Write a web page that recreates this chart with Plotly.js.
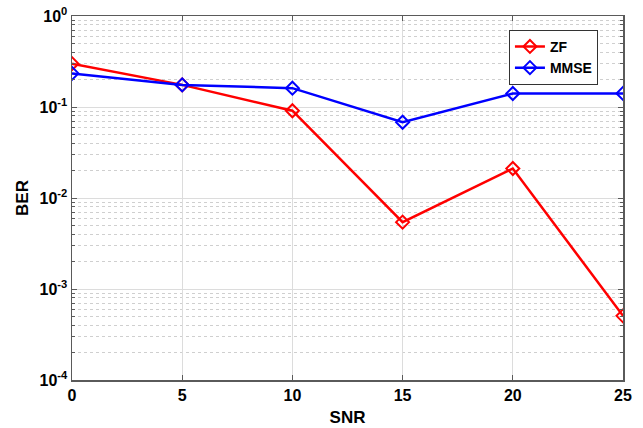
<!DOCTYPE html>
<html>
<head>
<meta charset="utf-8">
<script src="https://cdn.plot.ly/plotly-3.0.1.min.js"></script>
<style>html,body{margin:0;padding:0;background:#fff;}#chart{width:643px;height:428px;}</style>
</head>
<body>
<div id="chart"></div>
<script>
const snr = [0, 5, 10, 15, 20, 25];
const berZF = [0.299, 0.175, 0.091, 0.00543, 0.0211, 0.000507];
const berMMSE = [0.234, 0.175, 0.161, 0.068, 0.1406, 0.141];
const yTickVals = [1e-4, 1e-3, 1e-2, 1e-1, 1];
const yTickText = ['<b>10<sup>-4</sup></b>', '<b>10<sup>-3</sup></b>', '<b>10<sup>-2</sup></b>', '<b>10<sup>-1</sup></b>', '<b>10<sup>0</sup></b>'];
const yMinorDigits = [2, 3, 4, 5, 6, 7, 8, 9];
const xTickVals = [0, 5, 10, 15, 20, 25];
const xTickText = xTickVals.map(v => '<b>' + v + '</b>');

const yMinorVals = [];
yTickVals.slice(0, -1).forEach(d => yMinorDigits.forEach(k => yMinorVals.push(d * k)));

const mk = (name, y, color) => ({
  x: snr, y: y, name: '<b>' + name + '</b>', type: 'scatter', mode: 'lines+markers',
  line: {color: color, width: 2.5},
  marker: {symbol: 'diamond-open', size: 10, color: color, line: {color: color, width: 2}}
});

const data = [mk('ZF', berZF, '#ff0000'), mk('MMSE', berMMSE, '#0000ff')];

const fontFam = 'Liberation Sans, Arial, sans-serif';
const axisCommon = {
  showline: true, linecolor: '#5a5a5a', linewidth: 1.5, mirror: 'ticks',
  ticks: 'inside', ticklen: 5, tickcolor: '#5a5a5a', tickwidth: 1,
  gridcolor: '#dcdcdc', gridwidth: 1, zeroline: false,
  tickfont: {family: fontFam, size: 16, color: '#000'}
};

const layout = {
  width: 643, height: 428,
  margin: {l: 72, r: 20, t: 16, b: 48},
  paper_bgcolor: '#fff', plot_bgcolor: '#fff',
  showlegend: true,
  legend: {x: 0.793, y: 0.962, xanchor: 'left', yanchor: 'top', bordercolor: '#333', borderwidth: 1,
    bgcolor: '#fff', font: {family: fontFam, size: 14, color: '#000'},
    tracegroupgap: 0},
  xaxis: Object.assign({}, axisCommon, {
    range: [0, 25], tickmode: 'array', tickvals: xTickVals, ticktext: xTickText,
    title: {text: '<b>SNR</b>', font: {family: fontFam, size: 17, color: '#000'}, standoff: 8}
  }),
  yaxis: Object.assign({}, axisCommon, {
    type: 'log', range: [-4, 0], tickmode: 'array', tickvals: yTickVals, ticktext: yTickText,
    minor: {tickmode: 'array', tickvals: yMinorVals, ticks: 'inside', ticklen: 3, tickcolor: '#5a5a5a',
      showgrid: true, gridcolor: '#cfcfcf', griddash: 'dot', gridwidth: 1},
    title: {text: '<b>BER</b>', font: {family: fontFam, size: 17, color: '#000'}, standoff: 6}
  })
};

Plotly.newPlot('chart', data, layout, {displayModeBar: false, staticPlot: true});
</script>
</body>
</html>
